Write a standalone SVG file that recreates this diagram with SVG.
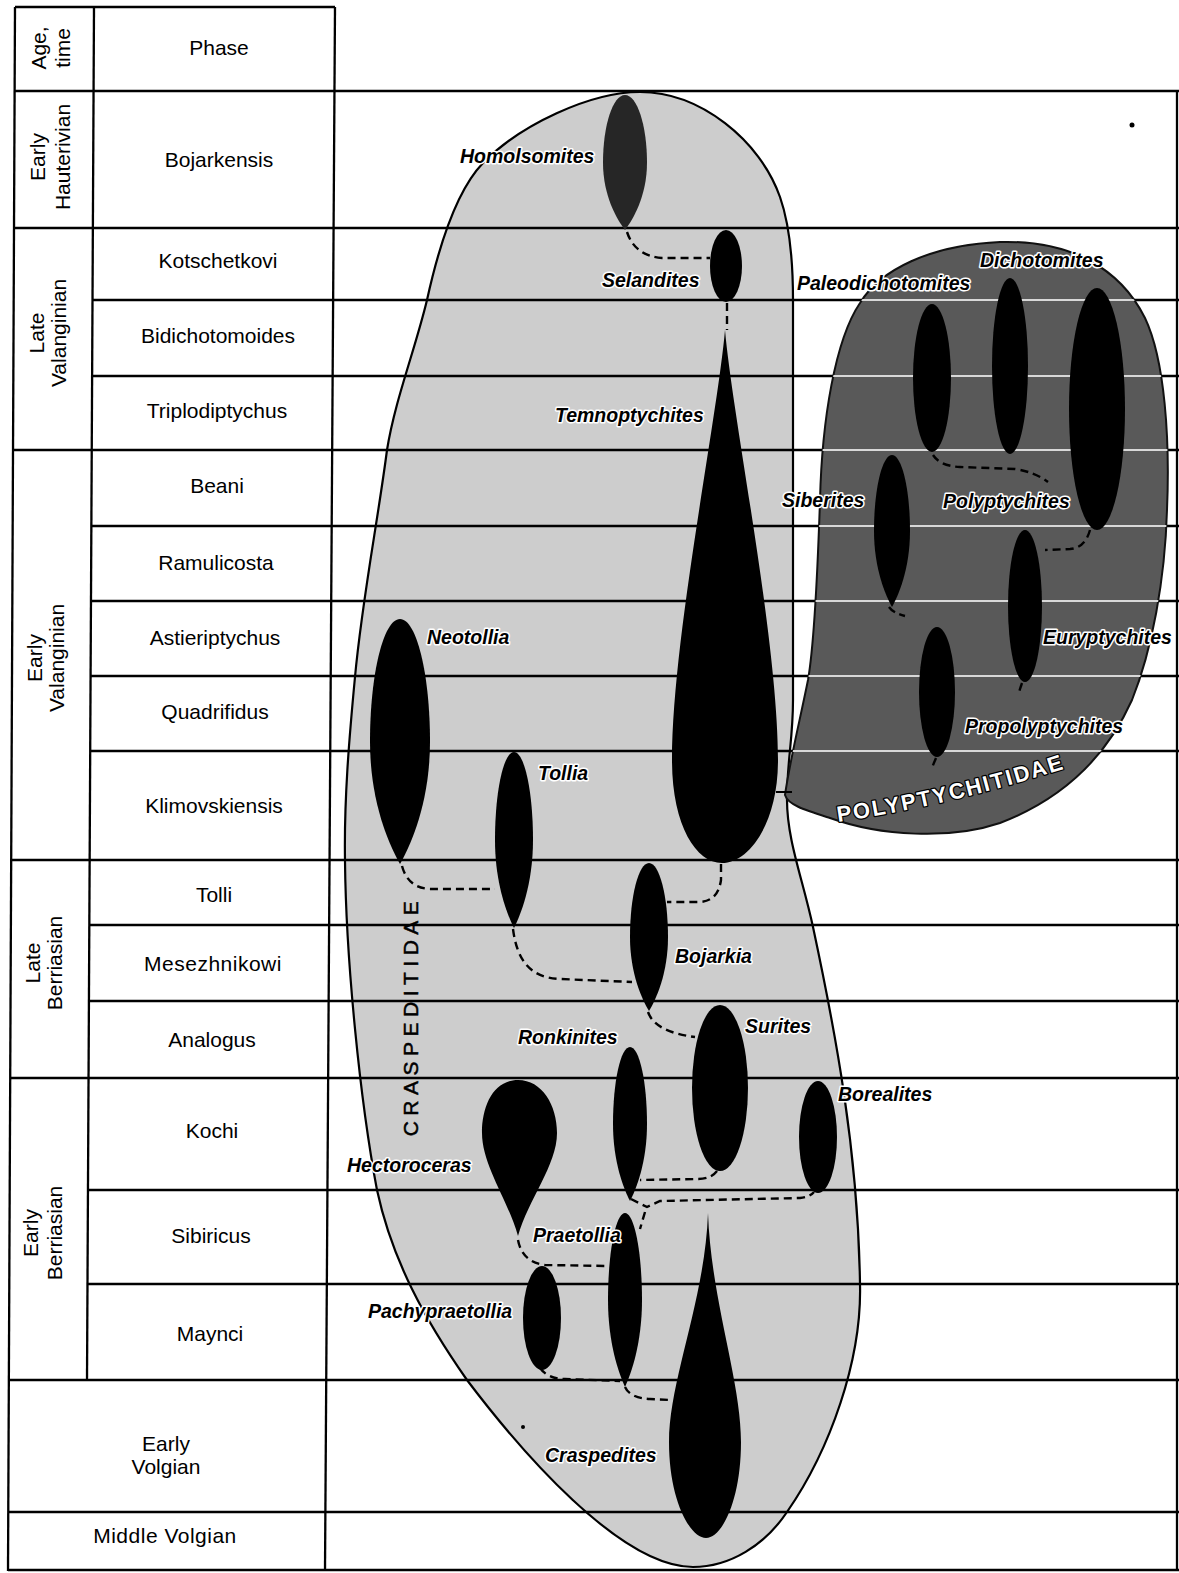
<svg xmlns="http://www.w3.org/2000/svg" width="1179" height="1573" viewBox="0 0 1179 1573">
<style>
.ln{stroke:#000;stroke-width:2.6;fill:none}
.lnl{stroke:#d8d8d8;stroke-width:2.2;fill:none}
.vl{stroke:#000;stroke-width:2.3;fill:none}
.ph{font-family:"Liberation Sans",Arial,sans-serif;font-size:21px;fill:#000;text-anchor:middle}
.age{font-family:"Liberation Sans",Arial,sans-serif;font-size:21px;fill:#000;text-anchor:middle}
.sp{font-family:"Liberation Sans",Arial,sans-serif;font-size:19.5px;font-weight:bold;font-style:italic;fill:#000;stroke:#fff;stroke-width:3;stroke-linejoin:round;paint-order:stroke}
.fam{font-family:"Liberation Sans",Arial,sans-serif;font-size:21px;fill:#000;stroke:#000;stroke-width:0.5;letter-spacing:5.5px}
.fam2{font-family:"Liberation Sans",Arial,sans-serif;font-size:22px;font-weight:bold;fill:#fff;stroke:#000;stroke-width:2.5;stroke-linejoin:round;paint-order:stroke;letter-spacing:2px}
.dash{stroke:#000;stroke-width:2.4;fill:none;stroke-dasharray:8 5}
</style>
<defs>
<path id="darkpath" d="M860 303 C880 270 930 245 1000 242 C1070 240 1120 268 1145 318 C1165 360 1170 440 1167 510 C1165 580 1152 650 1132 700 C1105 760 1060 800 1000 823 C950 840 880 836 830 818 C805 810 788 805 785 795 C790 760 800 720 808 680 C815 640 818 560 820 500 C822 420 835 340 860 303 Z"/>
<clipPath id="dk"><use href="#darkpath"/></clipPath>
<path id="polyarc" d="M838 822 Q955 805 1085 762"/>
</defs>
<rect x="0" y="0" width="1179" height="1573" fill="#fff"/>

<g id="craspeditidae-area">
<path d="M640 92 C590 92 520 125 483 163 C455 192 438 250 427 300 C415 350 395 400 387 450 C378 520 362 600 355 677 C349 740 344 800 345 861 C346 960 360 1100 377 1190 C392 1260 425 1320 467 1380 C520 1450 620 1567 693 1567 C730 1567 765 1545 787 1512 C830 1450 862 1360 860 1284 C858 1150 835 1030 813 927 C803 880 787 840 787 800 C787 760 793 740 793 700 L793 300 C793 250 788 220 780 197 C760 140 700 92 640 92 Z" fill="#cdcdcd" stroke="#000" stroke-width="2.2"/>
</g>

<g id="grid">
<line class="vl" x1="15" y1="7" x2="8" y2="1571"/>
<line class="vl" x1="94" y1="7" x2="87" y2="1380"/>
<line class="vl" x1="335" y1="7" x2="325" y2="1571"/>
<line class="vl" x1="1177" y1="91" x2="1177" y2="1571"/>
<line class="ln" x1="15" y1="7" x2="335" y2="7"/>
<line class="ln" x1="15" y1="91" x2="1179" y2="91"/>
<line class="ln" x1="14" y1="228" x2="1179" y2="228"/>
<line class="ln" x1="93" y1="300" x2="1179" y2="300"/>
<line class="ln" x1="93" y1="376" x2="1179" y2="376"/>
<line class="ln" x1="13" y1="450" x2="1179" y2="450"/>
<line class="ln" x1="92" y1="526" x2="1179" y2="526"/>
<line class="ln" x1="92" y1="601" x2="1179" y2="601"/>
<line class="ln" x1="91" y1="676" x2="1179" y2="676"/>
<line class="ln" x1="91" y1="751" x2="1179" y2="751"/>
<line class="ln" x1="11" y1="860" x2="1179" y2="860"/>
<line class="ln" x1="90" y1="925" x2="1179" y2="925"/>
<line class="ln" x1="89" y1="1001" x2="1179" y2="1001"/>
<line class="ln" x1="10" y1="1078" x2="1179" y2="1078"/>
<line class="ln" x1="88" y1="1190" x2="1179" y2="1190"/>
<line class="ln" x1="88" y1="1284" x2="1179" y2="1284"/>
<line class="ln" x1="9" y1="1380" x2="1179" y2="1380"/>
<line class="ln" x1="8" y1="1512" x2="1179" y2="1512"/>
<line class="ln" x1="8" y1="1570" x2="1179" y2="1570"/>
</g>

<g id="polyptychitidae-area">
<use href="#darkpath" fill="#595959" stroke="#111" stroke-width="2"/>
<g clip-path="url(#dk)">
<line class="lnl" x1="780" y1="300" x2="1179" y2="300"/>
<line class="lnl" x1="780" y1="376" x2="1179" y2="376"/>
<line class="lnl" x1="780" y1="450" x2="1179" y2="450"/>
<line class="lnl" x1="780" y1="526" x2="1179" y2="526"/>
<line class="lnl" x1="780" y1="601" x2="1179" y2="601"/>
<line class="lnl" x1="780" y1="676" x2="1179" y2="676"/>
<line class="lnl" x1="780" y1="751" x2="1179" y2="751"/>
</g>
</g>

<g id="table-text">
<text class="age" transform="translate(0,48) rotate(-90)"><tspan x="0" y="46">Age,</tspan><tspan x="0" y="70">time</tspan></text>
<text class="age" transform="translate(0,157) rotate(-90)"><tspan x="0" y="45">Early</tspan><tspan x="0" y="70">Hauterivian</tspan></text>
<text class="age" transform="translate(0,333) rotate(-90)"><tspan x="0" y="44">Late</tspan><tspan x="0" y="66">Valanginian</tspan></text>
<text class="age" transform="translate(0,658) rotate(-90)"><tspan x="0" y="42">Early</tspan><tspan x="0" y="64">Valanginian</tspan></text>
<text class="age" transform="translate(0,963) rotate(-90)"><tspan x="0" y="40">Late</tspan><tspan x="0" y="62">Berriasian</tspan></text>
<text class="age" transform="translate(0,1233) rotate(-90)"><tspan x="0" y="38">Early</tspan><tspan x="0" y="62">Berriasian</tspan></text>
<text class="ph" x="219" y="55">Phase</text>
<text class="ph" x="219" y="167">Bojarkensis</text>
<text class="ph" x="218" y="268">Kotschetkovi</text>
<text class="ph" x="218" y="343">Bidichotomoides</text>
<text class="ph" x="217" y="418">Triplodiptychus</text>
<text class="ph" x="217" y="493">Beani</text>
<text class="ph" x="216" y="570">Ramulicosta</text>
<text class="ph" x="215" y="645">Astieriptychus</text>
<text class="ph" x="215" y="719">Quadrifidus</text>
<text class="ph" x="214" y="813">Klimovskiensis</text>
<text class="ph" x="214" y="902">Tolli</text>
<text class="ph" x="213" y="971" letter-spacing="0.5">Mesezhnikowi</text>
<text class="ph" x="212" y="1047">Analogus</text>
<text class="ph" x="212" y="1138">Kochi</text>
<text class="ph" x="211" y="1243">Sibiricus</text>
<text class="ph" x="210" y="1341">Maynci</text>
<text class="ph" x="166" y="1451">Early</text>
<text class="ph" x="166" y="1474">Volgian</text>
<text class="ph" x="165" y="1543" letter-spacing="0.5">Middle Volgian</text>
</g>

<g id="connectors">
<path class="dash" d="M627 232 Q635 256 662 258 L710 258"/>
<path class="dash" d="M727 303 L727 330"/>
<path class="dash" d="M402 866 Q408 888 430 889 L495 889"/>
<path class="dash" d="M721 864 L721 880 Q718 901 700 902 L667 902"/>
<path class="dash" d="M513 929 C517 960 530 978 560 979 L632 982"/>
<path class="dash" d="M648 1012 Q655 1032 695 1037"/>
<path class="dash" d="M717 1171 Q711 1179 698 1179 L640 1180"/>
<path class="dash" d="M631 1199 L647 1207 L660 1201 L800 1198 Q810 1197 814 1192"/>
<path class="dash" d="M645 1212 L640 1229"/>
<path class="dash" d="M518 1240 Q522 1262 545 1265 L608 1266"/>
<path class="dash" d="M540 1368 Q548 1379 565 1379 L620 1381"/>
<path class="dash" d="M625 1387 Q630 1398 650 1399 L670 1400"/>
<path class="dash" d="M933 455 Q940 466 960 467 L1015 469 Q1035 472 1048 482"/>
<path class="dash" d="M1090 530 Q1085 548 1070 549 L1045 550"/>
<path class="dash" d="M889 607 Q893 613 905 616"/>
<path class="dash" d="M1022 683 L1018 695"/>
<path class="dash" d="M936 758 L931 770"/>
<line x1="776" y1="792" x2="792" y2="792" stroke="#000" stroke-width="2"/>
</g>

<g id="node-homolsomites"><path d="M625 95 C637.1 95 647 125.4 647 162.5 C647 196.3 632.7 219.9 625 230 C617.3 219.9 603 196.3 603 162.5 C603 125.4 612.9 95 625 95Z" fill="#262626"/><text class="sp" x="460" y="163">Homolsomites</text></g>
<g id="node-selandites"><ellipse cx="726" cy="266" rx="16" ry="36" fill="#000"/><text class="sp" x="602" y="287">Selandites</text></g>
<g id="node-temnoptychites"><path d="M725 330 C733 420 778 640 778 760 C778 825 748 863 722 863 C696 863 672 825 672 760 C672 640 717 420 725 330Z" fill="#000"/><text class="sp" x="555" y="422">Temnoptychites</text></g>
<g id="node-neotollia"><path d="M400 619 C416.5 619 430 674.1 430 741.5 C430 802.8 410.5 845.6 400 864 C389.5 845.6 370 802.8 370 741.5 C370 674.1 383.5 619 400 619Z" fill="#000"/><text class="sp" x="427" y="644">Neotollia</text></g>
<g id="node-tollia"><path d="M514 752 C524.5 752 533 791.6 533 840 C533 884 520.7 914.8 514 928 C507.3 914.8 495 884 495 840 C495 791.6 503.5 752 514 752Z" fill="#000"/><text class="sp" x="538" y="780">Tollia</text></g>
<g id="node-bojarkia"><path d="M649 863 C659.5 863 668 896.3 668 937 C668 974 655.7 999.9 649 1011 C642.3 999.9 630 974 630 937 C630 896.3 638.5 863 649 863Z" fill="#000"/><text class="sp" x="675" y="963">Bojarkia</text></g>
<g id="node-surites"><ellipse cx="720" cy="1088" rx="28" ry="83" fill="#000"/><text class="sp" x="745" y="1033">Surites</text></g>
<g id="node-ronkinites"><path d="M630 1047 C639.4 1047 647 1081.7 647 1124 C647 1162.5 636 1189.5 630 1201 C624 1189.5 613 1162.5 613 1124 C613 1081.7 620.6 1047 630 1047Z" fill="#000"/><text class="sp" x="518" y="1044">Ronkinites</text></g>
<g id="node-borealites"><ellipse cx="818" cy="1137" rx="19" ry="56" fill="#000"/><text class="sp" x="838" y="1101">Borealites</text></g>
<g id="node-hectoroceras"><path d="M518 1080 C542 1080 557 1105 557 1133 C557 1165 528 1200 518 1236 C508 1200 482 1165 482 1133 C482 1105 494 1080 518 1080Z" fill="#000"/><text class="sp" x="347" y="1172">Hectoroceras</text></g>
<g id="node-praetollia"><path d="M625 1213 C634.4 1213 642 1252.2 642 1300 C642 1343.5 631 1374 625 1387 C619 1374 608 1343.5 608 1300 C608 1252.2 615.6 1213 625 1213Z" fill="#000"/><text class="sp" x="533" y="1242">Praetollia</text></g>
<g id="node-pachypraetollia"><ellipse cx="542" cy="1318" rx="19" ry="52" fill="#000"/><text class="sp" x="368" y="1318">Pachypraetollia</text></g>
<g id="node-craspedites"><path d="M708 1213 C711 1300 741 1380 741 1442 C741 1500 722 1538 706 1538 C690 1538 669 1500 669 1442 C669 1380 705 1300 708 1213Z" fill="#000"/><text class="sp" x="545" y="1462">Craspedites</text></g>

<g id="node-paleodichotomites"><ellipse cx="932" cy="378" rx="19" ry="74" fill="#000"/><text class="sp" x="797" y="290">Paleodichotomites</text></g>
<g id="node-dichotomites"><ellipse cx="1010" cy="366" rx="18" ry="88" fill="#000"/><text class="sp" x="980" y="267">Dichotomites</text></g>
<g id="node-polyptychites"><ellipse cx="1097" cy="409" rx="28" ry="121" fill="#000"/><text class="sp" x="943" y="508">Polyptychites</text></g>
<g id="node-siberites"><path d="M892 455 C901.9 455 910 489.2 910 531 C910 569 898.3 595.6 892 607 C885.7 595.6 874 569 874 531 C874 489.2 882.1 455 892 455Z" fill="#000"/><text class="sp" x="782" y="507">Siberites</text></g>
<g id="node-euryptychites"><ellipse cx="1025" cy="606" rx="17" ry="76" fill="#000"/><text class="sp" x="1043" y="644">Euryptychites</text></g>
<g id="node-propolyptychites"><ellipse cx="937" cy="692" rx="18" ry="65" fill="#000"/><text class="sp" x="965" y="733">Propolyptychites</text></g>

<g id="family-labels">
<text class="fam" transform="translate(418,1016) rotate(-90)" text-anchor="middle">CRASPEDITIDAE</text>
<text class="fam2"><textPath href="#polyarc">POLYPTYCHITIDAE</textPath></text>
</g>
<g id="specks">
<circle cx="1132" cy="125" r="2.5" fill="#000"/>
<circle cx="523" cy="1427" r="2" fill="#000"/>
</g>
</svg>
